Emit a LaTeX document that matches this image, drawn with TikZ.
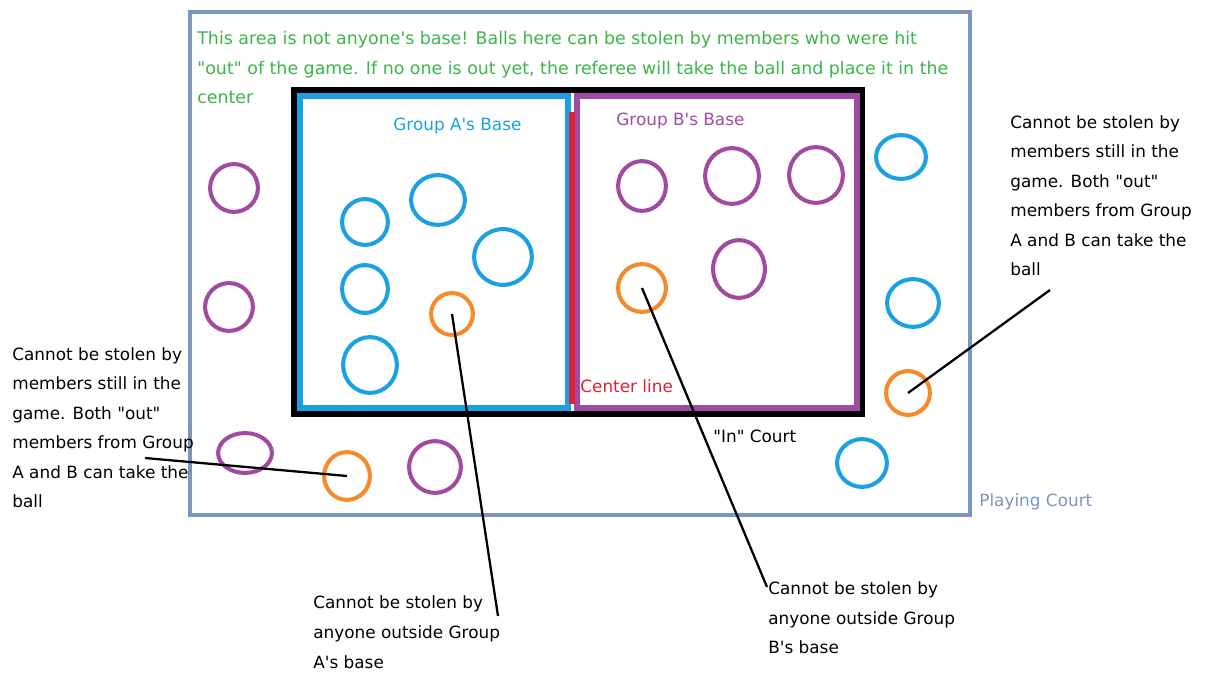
\documentclass[tikz,border=0pt]{standalone}
\usepackage{fontspec}
\setmainfont{DejaVu Sans}
\usetikzlibrary{shapes.geometric}
\definecolor{courtblue}{HTML}{7A95BF}
\definecolor{teamA}{HTML}{1BA1E2}
\definecolor{teamB}{HTML}{A04BA0}
\definecolor{loose}{HTML}{F58A2A}
\definecolor{notegreen}{HTML}{3CB54A}
\definecolor{midred}{HTML}{DD2233}
\newcommand{\qd}{\textquotedbl}
\newcommand{\qs}{\textquotesingle}
\tikzset{
  ball/.style 2 args={draw, ellipse, line width=2.3pt, inner sep=0pt,
    minimum width=#1*0.567pt, minimum height=#2*0.567pt},
  note/.style={anchor=base west, align=left, inner sep=0pt,
    font=\fontsize{9.6}{16.8}\selectfont},
}
\begin{document}
\begin{tikzpicture}[x=0.02cm, y=-0.02cm]
  \useasboundingbox (0,0) rectangle (1208,675);
  % court and bases
  \draw[courtblue, line width=2.3pt] (190,12) rectangle (970,515);
  \draw[line width=3.4pt] (294,90) rectangle (862,414);
  \draw[teamA, line width=3.2pt] (300,96) rectangle (568,408);
  \draw[teamB, line width=3.2pt] (577,96) rectangle (857,408);
  \draw[midred, line width=3pt] (572,112) -- (572,404);
  % balls in group A's base
  \node[ball={46}{46}, teamA] (a1) at (365,222) {};
  \node[ball={54}{50}, teamA] (a2) at (438,200) {};
  \node[ball={58}{56}, teamA] (a3) at (503,257) {};
  \node[ball={46}{48}, teamA] (a4) at (365,289) {};
  \node[ball={54}{56}, teamA] (a5) at (370,365) {};
  \node[ball={42}{42}, loose] (oA) at (452,314) {};
  % balls in group B's base
  \node[ball={48}{50}, teamB] (b1) at (642,186) {};
  \node[ball={54}{56}, teamB] (b2) at (732,176) {};
  \node[ball={54}{56}, teamB] (b3) at (816,175) {};
  \node[ball={52}{58}, teamB] (b4) at (739,269) {};
  \node[ball={48}{48}, loose] (oB) at (642,288) {};
  % balls outside the bases
  \node[ball={48}{48}, teamB] (p1) at (234,188) {};
  \node[ball={48}{48}, teamB] (p2) at (229,307) {};
  \node[ball={54}{40}, teamB] (p3) at (245,453) {};
  \node[ball={52}{52}, teamB] (p4) at (435,467) {};
  \node[ball={46}{48}, loose] (oL) at (347,476) {};
  \node[ball={50}{44}, teamA] (c1) at (901,157) {};
  \node[ball={52}{48}, teamA] (c2) at (913,303) {};
  \node[ball={44}{44}, loose] (oR) at (908,393) {};
  \node[ball={50}{48}, teamA] (c3) at (862,463) {};
  % labels (base west = baseline of the last line)
  \node[note, notegreen, font=\fontsize{9.9}{17}\selectfont] (free) at (197,104)
    {This area is not anyone\qs s base! Balls here can be stolen by members who were hit\\
     \qd out\qd\ of the game. If no one is out yet, the referee will take the ball and place it in the\\
     center};
  \node[note, teamA] (baseA) at (393,131) {Group A\qs s Base};
  \node[note, teamB] (baseB) at (616,126) {Group B\qs s Base};
  \node[note, midred] (mid) at (580,393) {Center line};
  \node[note] (inner) at (713,443) {\qd In\qd\ Court};
  \node[note, courtblue] (court) at (979,507) {Playing Court};
  \node[note] (nL) at (12,508)
    {Cannot be stolen by\\members still in the\\game. Both \qd out\qd\\members from Group\\A and B can take the\\ball};
  \node[note] (nR) at (1010,276)
    {Cannot be stolen by\\members still in the\\game. Both \qd out\qd\\members from Group\\A and B can take the\\ball};
  \node[note] (nA) at (313,668)
    {Cannot be stolen by\\anyone outside Group\\A\qs s base};
  \node[note] (nB) at (768,654)
    {Cannot be stolen by\\anyone outside Group\\B\qs s base};
  % pointers
  \coordinate (tL) at (145,458);
  \coordinate (tA) at (498,616);
  \coordinate (tB) at (767,587);
  \coordinate (tR) at (1050,290);
  \begin{scope}[line width=1.3pt]
    \draw (tL) to (oL.center);
    \draw (oA.center) to (tA);
    \draw (oB.center) to (tB);
    \draw (oR.center) to (tR);
  \end{scope}
\end{tikzpicture}
\end{document}
